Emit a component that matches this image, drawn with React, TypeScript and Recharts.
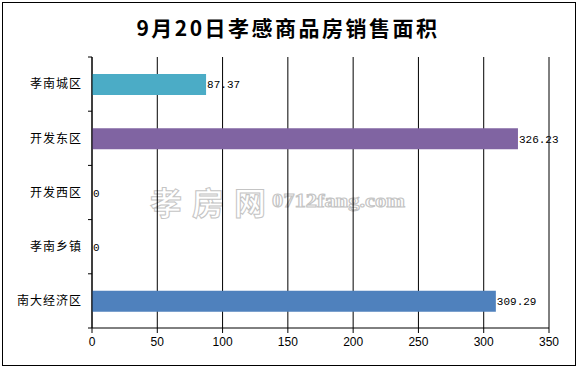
import React from 'react';
import { BarChart, Bar, XAxis, YAxis, CartesianGrid, Cell, LabelList } from 'recharts';

const W = 576;
const H = 366;

// categories (top to bottom) and their areas
const districts = ['孝南城区', '开发东区', '开发西区', '孝南乡镇', '南大经济区'];
const areas = [87.37, 326.23, 0, 0, 309.29];
const barColors = ['#4BACC6', '#8064A2', '#4F81BD', '#4F81BD', '#4F81BD'];
const xTicks = [0, 50, 100, 150, 200, 250, 300, 350];

const data = districts.map((name, i) => ({ name, value: areas[i], color: barColors[i] }));

const MARGIN = { top: 57, right: 27, left: 0, bottom: 0 };
const X_AXIS_H = 38;
const BAND = (H - MARGIN.top - MARGIN.bottom - X_AXIS_H) / districts.length;

// excel-style category ticks: tick marks sit on band edges, not centres
function CategoryTick(props: any) {
  const { x, y, payload, index, visibleTicksCount } = props;
  const half = payload && payload.offset ? payload.offset : BAND / 2;
  const axisX = x + 10;
  return (
    <g>
      <line x1={axisX - 4} x2={axisX} y1={y - half} y2={y - half} stroke="#000" />
      {index === visibleTicksCount - 1 && (
        <line x1={axisX - 4} x2={axisX} y1={y + half} y2={y + half} stroke="#000" />
      )}
      <text
        x={x}
        y={y}
        dy="0.36em"
        textAnchor="end"
        fill="#000"
        fontSize={12}
        letterSpacing={1}
        fontFamily='"Noto Sans CJK SC", sans-serif'
      >
        {payload.value}
      </text>
    </g>
  );
}

// value label at the right end of each bar (also for zero-length bars)
function ValueLabel(props: any) {
  const { x, y, width, height, value } = props;
  return (
    <text
      x={Number(x) + Number(width || 0) + 1}
      y={Number(y) + Number(height) / 2}
      dy="0.36em"
      textAnchor="start"
      fill="#000"
      fontSize={11}
      fontFamily='"Liberation Mono", monospace'
    >
      {value}
    </text>
  );
}

export default function App() {
  return (
    <div style={{ position: 'absolute', left: 0, top: 0, width: W, height: H, background: '#fff' }}>
      <div
        style={{
          position: 'absolute',
          left: 2,
          top: 2,
          width: 574,
          height: 364,
          boxSizing: 'border-box',
          border: '1px solid #000',
        }}
      />
      {/* watermark */}
      <svg width={W} height={H} style={{ position: 'absolute', left: 0, top: 0 }}>
        <text
          x={150}
          y={215}
          fontSize={32}
          fontWeight="bold"
          letterSpacing={10}
          fill="#fff"
          stroke="#c4c4c4"
          strokeWidth={1}
          fontFamily='"Noto Sans CJK SC", sans-serif'
        >
          孝房网
        </text>
        <text
          x={272}
          y={207}
          fontSize={18}
          fontWeight="bold"
          textLength={133}
          lengthAdjust="spacingAndGlyphs"
          fill="#fff"
          stroke="#c4c4c4"
          strokeWidth={1}
          fontFamily='"Liberation Serif", serif'
        >
          0712fang.com
        </text>
      </svg>
      <div
        style={{
          position: 'absolute',
          left: 0,
          top: 17,
          width: W,
          textAlign: 'center',
          fontFamily: '"Noto Sans CJK SC", sans-serif',
          fontWeight: 'bold',
          fontSize: 21,
          lineHeight: '21px',
          letterSpacing: 2.5,
          color: '#000',
        }}
      >
        9月20日孝感商品房销售面积
      </div>
      <div style={{ position: 'absolute', left: 0, top: 0 }}>
        <BarChart width={W} height={H} data={data} layout="vertical" margin={MARGIN}>
          <CartesianGrid horizontal={false} vertical stroke="#000" strokeWidth={1} />
          <XAxis
            type="number"
            domain={[0, 350]}
            ticks={xTicks}
            interval={0}
            height={X_AXIS_H}
            tickSize={5}
            tickMargin={4}
            axisLine={{ stroke: '#000' }}
            tickLine={{ stroke: '#000' }}
            tick={{ fill: '#000', fontSize: 12, fontFamily: '"Liberation Sans", sans-serif' }}
          />
          <YAxis
            type="category"
            dataKey="name"
            width={92}
            tickSize={4}
            tickMargin={6}
            tickLine={false}
            axisLine={{ stroke: '#000' }}
            tick={<CategoryTick />}
            interval={0}
          />
          <Bar dataKey="value" barSize={21} minPointSize={0.01} isAnimationActive={false}>
            {data.map((d, i) => (
              <Cell key={`c-${i}`} fill={d.color} />
            ))}
            <LabelList dataKey="value" content={<ValueLabel />} />
          </Bar>
        </BarChart>
      </div>
    </div>
  );
}
